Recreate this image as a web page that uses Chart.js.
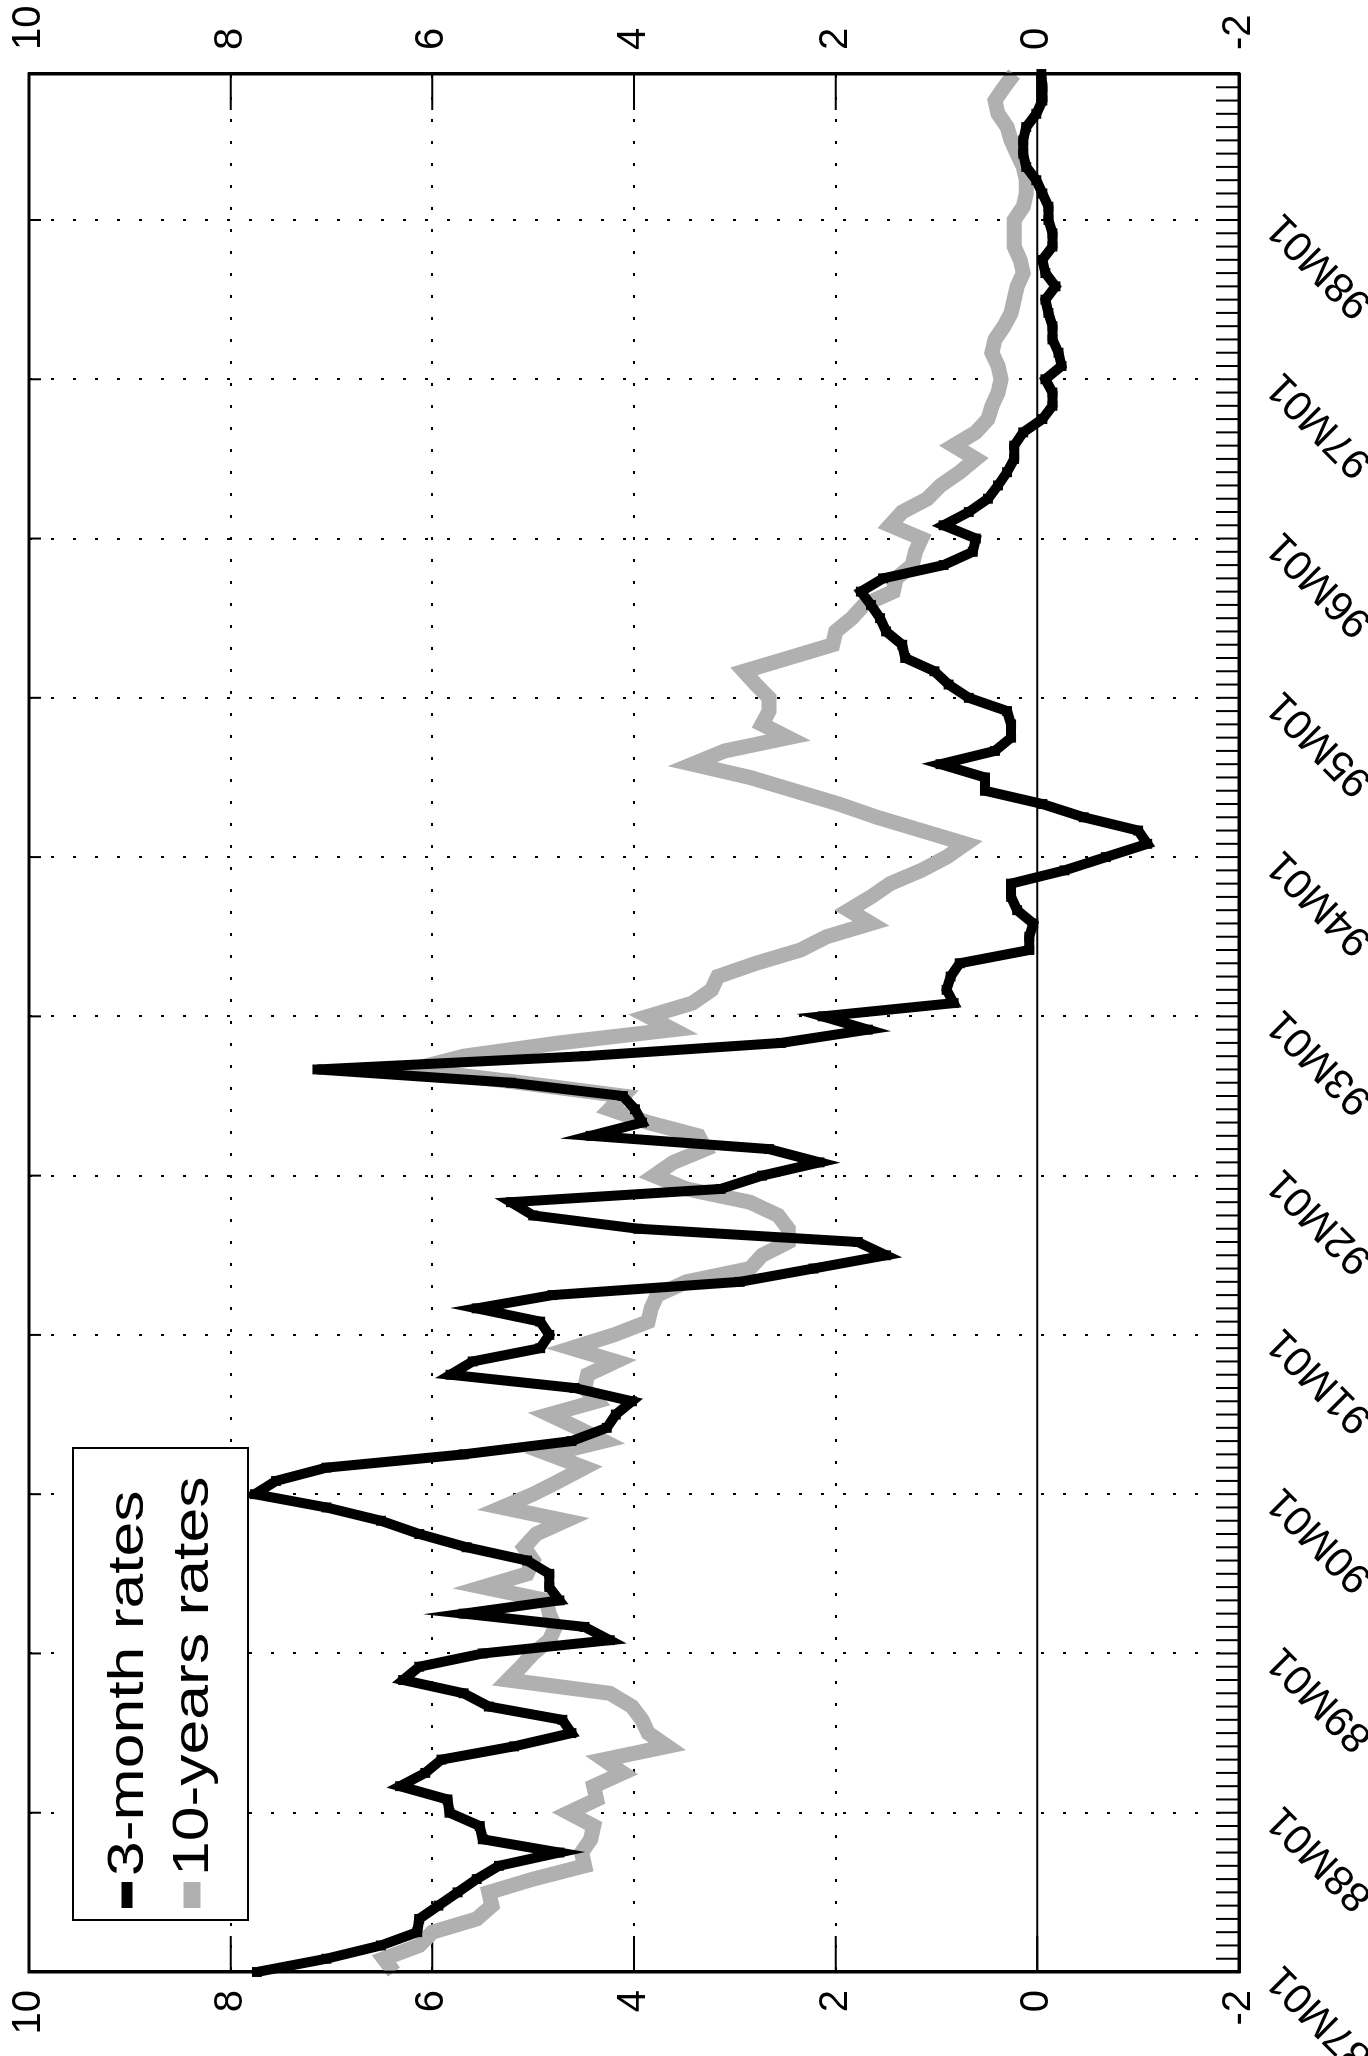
<!DOCTYPE html>
<html>
<head>
<meta charset="utf-8">
<script src="https://cdn.jsdelivr.net/npm/chart.js@4.4.1/dist/chart.umd.min.js"></script>
<style>
  html, body { margin: 0; padding: 0; background: #fff; overflow: hidden; }
  body { width: 1368px; height: 2056px; position: relative; }
  /* the chart is drawn landscape and turned a quarter turn to the left */
  #wrap {
    position: absolute; left: 0; top: 0;
    width: 2056px; height: 1368px;
    transform-origin: 0 0;
    transform: translate(0px, 2056px) rotate(-90deg);
  }
</style>
</head>
<body>
<div id="wrap"><canvas id="rates" width="2056" height="1368"></canvas></div>
<script>
// years on the date axis, one category per month
const years = ['87', '88', '89', '90', '91', '92', '93', '94', '95', '96', '97', '98'];
const monthCodes = ['01', '02', '03', '04', '05', '06', '07', '08', '09', '10', '11', '12'];
const valueTicks = [10, 8, 6, 4, 2, 0, -2];

const months = [];
years.forEach(y => monthCodes.forEach(m => months.push(y + 'M' + m)));

// 3-month rates (black line with markers)
const threeMonth = [
    7.74, 7.05, 6.51, 6.15, 6.13, 5.94, 5.75, 5.56, 5.34, 4.74, 5.50, 5.53,
    5.83, 5.85, 6.32, 6.07, 5.91, 5.19, 4.62, 4.71, 5.44, 5.69, 6.29, 6.13,
    5.50, 4.24, 4.49, 5.69, 4.74, 4.84, 4.84, 5.06, 5.66, 6.13, 6.51, 7.05,
    7.76, 7.55, 7.05, 5.69, 4.62, 4.27, 4.18, 4.02, 4.59, 5.82, 5.60, 4.93,
    4.84, 4.93, 5.56, 4.81, 2.95, 2.22, 1.50, 1.78, 3.96, 5.00, 5.22, 3.14,
    2.73, 2.16, 2.66, 4.43, 3.92, 3.99, 4.11, 5.22, 7.14, 4.49, 2.54, 1.68,
    2.13, 0.83, 0.90, 0.86, 0.77, 0.08, 0.08, 0.04, 0.20, 0.26, 0.26, -0.27,
    -0.68, -1.09, -1.00, -0.46, -0.05, 0.52, 0.52, 0.96, 0.42, 0.26, 0.26, 0.30,
    0.68, 0.88, 1.02, 1.31, 1.34, 1.50, 1.56, 1.65, 1.75, 1.53, 0.93, 0.64,
    0.61, 0.93, 0.68, 0.49, 0.39, 0.30, 0.23, 0.23, 0.14, -0.05, -0.15, -0.15,
    -0.08, -0.24, -0.21, -0.15, -0.15, -0.11, -0.08, -0.18, -0.08, -0.05, -0.15, -0.15,
    -0.11, -0.11, -0.05, 0.01, 0.11, 0.14, 0.14, 0.11, 0.01, -0.05, -0.05, -0.04
];

// 10-years rates (thick grey line)
const tenYear = [
    6.38, 6.48, 6.13, 6.00, 5.56, 5.41, 5.44, 5.00, 4.49, 4.52, 4.43, 4.40,
    4.65, 4.37, 4.40, 4.11, 4.30, 3.67, 3.86, 3.92, 4.02, 4.24, 5.25, 5.12,
    5.00, 4.84, 4.78, 4.84, 4.87, 5.50, 5.06, 5.00, 5.09, 4.97, 4.68, 5.31,
    5.00, 4.74, 4.49, 4.84, 4.30, 4.56, 4.84, 4.37, 4.49, 4.46, 4.18, 4.62,
    4.20, 3.86, 3.83, 3.77, 3.48, 2.85, 2.73, 2.47, 2.47, 2.57, 2.85, 3.48,
    3.80, 3.61, 3.29, 3.36, 3.86, 4.24, 4.11, 5.12, 6.20, 5.69, 4.74, 3.61,
    3.86, 3.42, 3.23, 3.17, 2.79, 2.35, 2.09, 1.65, 1.87, 1.65, 1.46, 1.15,
    0.90, 0.71, 1.15, 1.59, 1.97, 2.41, 2.85, 3.42, 3.10, 2.47, 2.73, 2.66,
    2.66, 2.79, 2.91, 2.47, 2.03, 2.00, 1.84, 1.72, 1.43, 1.40, 1.24, 1.21,
    1.15, 1.46, 1.34, 1.09, 0.96, 0.77, 0.61, 0.83, 0.61, 0.49, 0.45, 0.39,
    0.36, 0.39, 0.45, 0.42, 0.33, 0.26, 0.23, 0.20, 0.14, 0.17, 0.23, 0.23,
    0.23, 0.14, 0.11, 0.11, 0.14, 0.20, 0.26, 0.30, 0.39, 0.42, 0.33, 0.23
];

const tickFont = { family: "'Liberation Sans', Arial, sans-serif", size: 40 };
const dateFont = { family: "'Liberation Sans', Arial, sans-serif", size: 42 };

// box, inside ticks, solid zero line and the legend
const framePlugin = {
    id: 'frame',
    beforeDatasetsDraw(chart) {
        const ctx = chart.ctx;
        const a = chart.chartArea;
        const x = chart.scales.x;
        const y = chart.scales.y;
        ctx.save();
        ctx.strokeStyle = '#000';
        ctx.lineWidth = 2;
        const y0 = y.getPixelForValue(0);
        ctx.beginPath();
        ctx.moveTo(a.left, y0);
        ctx.lineTo(a.right, y0);
        ctx.stroke();

        ctx.beginPath();
        valueTicks.forEach(v => {
            const py = y.getPixelForValue(v);
            ctx.moveTo(a.left, py);
            ctx.lineTo(a.left + 36, py);
            ctx.moveTo(a.right, py);
            ctx.lineTo(a.right - 36, py);
        });
        months.forEach((m, i) => {
            const px = x.getPixelForValue(i);
            ctx.moveTo(px, a.bottom);
            ctx.lineTo(px, a.bottom - 23);
            if (i % 12 === 0) {
                ctx.moveTo(px, a.top);
                ctx.lineTo(px, a.top + 12);
            }
        });
        ctx.stroke();
        ctx.restore();
    },
    afterDraw(chart) {
        const ctx = chart.ctx;
        const a = chart.chartArea;
        ctx.save();
        ctx.strokeStyle = '#000';
        ctx.lineWidth = 3;
        ctx.strokeRect(a.left, a.top, a.right - a.left, a.bottom - a.top);

        const bx = a.left + 52, by = 73, bw = 472, bh = 175;
        ctx.fillStyle = '#fff';
        ctx.fillRect(bx, by, bw, bh);
        ctx.lineWidth = 2;
        ctx.strokeRect(bx, by, bw, bh);

        const rows = [by + 54, by + 119];
        ctx.font = "50px 'Liberation Sans', Arial, sans-serif";
        ctx.textBaseline = 'middle';
        chart.data.datasets.forEach((ds, i) => {
            ctx.strokeStyle = ds.borderColor;
            ctx.lineWidth = i === 0 ? 11 : 17;
            ctx.beginPath();
            ctx.moveTo(bx + 12, rows[i]);
            ctx.lineTo(bx + 38, rows[i]);
            ctx.stroke();
            ctx.save();
            ctx.translate(bx + 44, rows[i] + 2);
            ctx.scale(1.25, 1);
            ctx.fillStyle = '#000';
            ctx.fillText(ds.label, 0, 0);
            ctx.restore();
        });
        ctx.restore();
    }
};

new Chart(document.getElementById('rates'), {
    type: 'line',
    data: {
        labels: months,
        datasets: [
            {
                label: '3-month rates',
                data: threeMonth,
                borderColor: '#000',
                backgroundColor: '#000',
                borderWidth: 10,
                pointStyle: 'rect',
                pointRadius: 7,
                pointBorderWidth: 0,
                tension: 0,
            },
            {
                label: '10-years rates',
                data: tenYear,
                borderColor: '#b0b0b0',
                backgroundColor: '#b0b0b0',
                borderWidth: 15,
                pointRadius: 0,
                tension: 0,
            },
        ],
    },
    options: {
        responsive: false,
        animation: false,
        layout: { padding: { top: 29, left: 0, right: 0, bottom: 0 } },
        plugins: {
            legend: { display: false },
            tooltip: { enabled: false },
        },
        scales: {
            x: {
                type: 'category',
                offset: false,
                grid: {
                    color: c => (c.index % 12 === 0 ? '#000' : 'rgba(0,0,0,0)'),
                    lineWidth: 2,
                    drawTicks: false,
                },
                border: { color: '#000', width: 3, dash: [3, 19] },
                ticks: {
                    autoSkip: false,
                    minRotation: 45,
                    maxRotation: 45,
                    padding: 18,
                    color: '#000',
                    font: dateFont,
                    callback: function (v, i) {
                        return i % 12 === 0 ? this.getLabelForValue(v) : '';
                    },
                },
                afterFit: s => {
                    s.height = 129;
                    s.paddingLeft = 0;
                    s.paddingRight = 0;
                },
            },
            y: {
                position: 'left',
                min: -2,
                max: 10,
                grid: {
                    color: c => (c.tick && c.tick.value === 0 ? 'rgba(0,0,0,0)' : '#000'),
                    lineWidth: 2,
                    drawTicks: false,
                },
                border: { color: '#000', width: 3, dash: [3, 19] },
                ticks: { stepSize: 2, padding: 18, color: '#000', font: tickFont },
                afterFit: s => {
                    s.width = 84;
                    s.paddingTop = 0;
                    s.paddingBottom = 0;
                },
            },
            y2: {
                position: 'right',
                min: -2,
                max: 10,
                grid: { drawOnChartArea: false, drawTicks: false },
                border: { color: '#000', width: 3 },
                ticks: { stepSize: 2, padding: 24, color: '#000', font: tickFont },
                afterFit: s => {
                    s.width = 74;
                    s.paddingTop = 0;
                    s.paddingBottom = 0;
                },
            },
        },
    },
    plugins: [framePlugin],
});
</script>
</body>
</html>
